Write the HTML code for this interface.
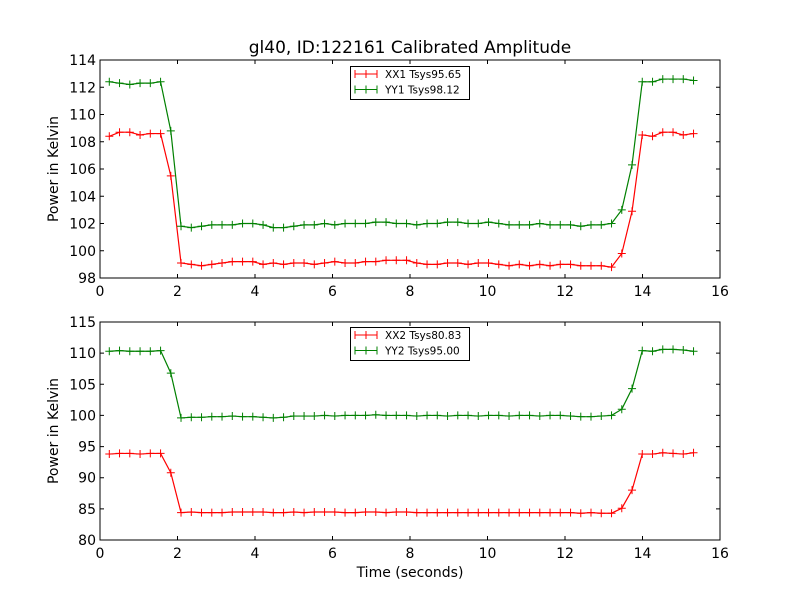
<!DOCTYPE html>
<html><head><meta charset="utf-8"><style>
body{margin:0;background:#fff;}
svg{display:block;font-family:"DejaVu Sans","Liberation Sans",sans-serif;}
</style></head><body>
<svg id="c" width="800" height="600"></svg>
<script>
const times = [];
for (let i = 0; i < 58; i++) times.push(+(0.24 + i * 0.2645).toFixed(3));
const xx1 = [108.4,108.7,108.7,108.5,108.6,108.6,105.5,
 99.1,99.0,98.9,99.0,99.1,99.2,99.2,99.2,99.0,99.1,99.0,99.1,99.1,99.0,99.1,99.2,99.1,99.1,99.2,99.2,99.3,99.3,99.3,99.1,99.0,99.0,99.1,99.1,99.0,99.1,99.1,99.0,98.9,99.0,98.9,99.0,98.9,99.0,99.0,98.9,98.9,98.9,
 98.8,99.8,102.9,108.5,108.4,108.7,108.7,108.5,108.6];
const yy1 = [112.4,112.3,112.2,112.3,112.3,112.4,108.8,
 101.8,101.7,101.8,101.9,101.9,101.9,102.0,102.0,101.9,101.7,101.7,101.8,101.9,101.9,102.0,101.9,102.0,102.0,102.0,102.1,102.1,102.0,102.0,101.9,102.0,102.0,102.1,102.1,102.0,102.0,102.1,102.0,101.9,101.9,101.9,102.0,101.9,101.9,101.9,101.8,101.9,101.9,
 102.0,103.0,106.3,112.4,112.4,112.6,112.6,112.6,112.5];
const xx2 = [93.8,93.9,93.9,93.8,93.9,93.9,90.8,
 84.4,84.5,84.4,84.4,84.4,84.5,84.5,84.5,84.5,84.4,84.4,84.5,84.4,84.5,84.5,84.5,84.4,84.4,84.5,84.5,84.4,84.5,84.5,84.4,84.4,84.4,84.4,84.4,84.4,84.4,84.4,84.4,84.4,84.4,84.4,84.4,84.4,84.4,84.4,84.3,84.4,84.3,
 84.3,85.1,88.0,93.8,93.8,94.0,93.9,93.8,94.0];
const yy2 = [110.3,110.4,110.3,110.3,110.3,110.4,106.8,
 99.6,99.7,99.7,99.8,99.8,99.9,99.8,99.8,99.7,99.6,99.7,99.9,99.9,99.9,100.0,99.9,100.0,100.0,100.0,100.1,100.0,100.0,100.0,99.9,100.0,100.0,99.9,100.0,100.0,99.9,100.0,100.0,99.9,100.0,100.0,99.9,100.0,100.0,99.9,99.8,99.8,99.9,
 100.0,101.0,104.3,110.4,110.3,110.6,110.6,110.5,110.3];
const xTicks = [0,2,4,6,8,10,12,14,16];
const yTicksTop = [98,100,102,104,106,108,110,112,114];
const yTicksBot = [80,85,90,95,100,105,110,115];

const svg = document.getElementById('c');
const NS = 'http://www.w3.org/2000/svg';
function mk(tag, attrs, parent){const e=document.createElementNS(NS,tag);for(const k in attrs)e.setAttribute(k,attrs[k]);(parent||svg).appendChild(e);return e;}

function panel(name, top, bottom, ymin, ymax, yTicks, series, legendY){
  const L=100,R=720;
  const g = mk('g',{});
  
  
  const xs = v => L + (v-0)/(16-0)*(R-L);
  const ys = v => bottom - (v-ymin)/(ymax-ymin)*(bottom-top);
  series.forEach(s=>{
    const sg = mk('g',{},g);
    
    
    const pts = s.vals.map((v,i)=>xs(times[i]).toFixed(2)+','+ys(v).toFixed(2)).join(' ');
    mk('polyline',{points:pts,fill:'none',stroke:s.color,'stroke-width':1.2},sg);
    s.vals.forEach((v,i)=>{
      const x=xs(times[i]),y=ys(v);
      const m = mk('path',{d:`M${x-4},${y}H${x+4}M${x},${y-4}V${y+4}`,stroke:s.color,'stroke-width':1},sg);
      
      
    });
  });
  mk('rect',{x:L,y:top,width:R-L,height:bottom-top,fill:'none',stroke:'#000','stroke-width':1},g);
  const xa = mk('g',{},g);
  
  
  xTicks.forEach(t=>{
    const x=xs(t);
    mk('path',{d:`M${x},${bottom}v-4M${x},${top}v4`,stroke:'#000'},xa);
    const tx=mk('text',{x:x,y:bottom+18,'font-size':14,'text-anchor':'middle'},xa);tx.textContent=t;
  });
  const ya = mk('g',{},g);
  
  
  yTicks.forEach(t=>{
    const y=ys(t);
    mk('path',{d:`M${L},${y}h4M${R},${y}h-4`,stroke:'#000'},ya);
    const tx=mk('text',{x:L-4,y:y+5,'font-size':14,'text-anchor':'end'},ya);tx.textContent=t;
  });
  const yt=mk('text',{x:0,y:0,'font-size':14,'text-anchor':'middle',transform:`translate(58,${(top+bottom)/2}) rotate(-90)`},g);
  yt.textContent='Power in Kelvin';
  
  
  const lg = mk('g',{},g);
  
  
  mk('rect',{x:350.5,y:legendY+0.5,width:119,height:33,fill:'#fff',stroke:'#000'},lg);
  series.forEach((s,i)=>{
    const y=legendY+8+i*15.5;
    const e = mk('g',{},lg);
    
    
    mk('path',{d:`M355,${y}h22M366,${y-4}v8M355,${y-4}v8M377,${y-4}v8`,stroke:s.color,'stroke-width':1},e);
    const tx=mk('text',{x:385,y:y+4,'font-size':10.5},e);tx.textContent=s.label;
  });
}
panel('top-panel',60,278,98,114,yTicksTop,[
  {id:'xx1',vals:xx1,color:'#ff0000',label:'XX1 Tsys95.65'},
  {id:'yy1',vals:yy1,color:'#008000',label:'YY1 Tsys98.12'}],66);
panel('bottom-panel',322,540,80,115,yTicksBot,[
  {id:'xx2',vals:xx2,color:'#ff0000',label:'XX2 Tsys80.83'},
  {id:'yy2',vals:yy2,color:'#008000',label:'YY2 Tsys95.00'}],327);
const title=mk('text',{x:410,y:53,'font-size':17,'text-anchor':'middle'});
title.textContent='gl40, ID:122161 Calibrated Amplitude';


const xt=mk('text',{x:410,y:577,'font-size':14,'text-anchor':'middle'});
xt.textContent='Time (seconds)';


</script>
</body></html>
